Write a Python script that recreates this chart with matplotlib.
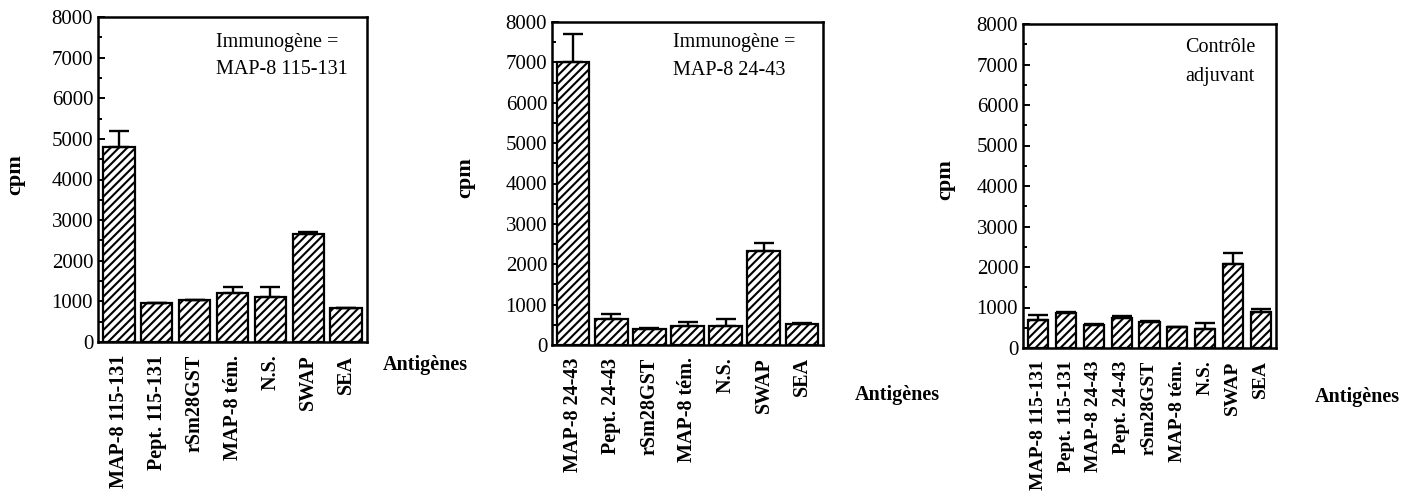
import numpy as np
import matplotlib
matplotlib.use("Agg")
import matplotlib.pyplot as plt
from matplotlib.ticker import MultipleLocator

# panel 1: immunogen MAP-8 115-131
labels_a = ["MAP-8 115-131", "Pept. 115-131", "rSm28GST", "MAP-8 tém.", "N.S.", "SWAP", "SEA"]
cpm_a = [4800, 950, 1030, 1200, 1100, 2650, 830]
err_a = [400, 0, 0, 150, 250, 50, 0]

# panel 2: immunogen MAP-8 24-43
labels_b = ["MAP-8 24-43", "Pept. 24-43", "rSm28GST", "MAP-8 tém.", "N.S.", "SWAP", "SEA"]
cpm_b = [7000, 650, 400, 480, 480, 2330, 520]
err_b = [700, 110, 30, 90, 160, 190, 30]

# panel 3: adjuvant control
labels_c = ["MAP-8 115-131", "Pept. 115-131", "MAP-8 24-43", "Pept. 24-43", "rSm28GST",
            "MAP-8 tém.", "N.S.", "SWAP", "SEA"]
cpm_c = [700, 860, 560, 740, 640, 510, 470, 2080, 880]
err_c = [110, 40, 30, 40, 30, 0, 150, 270, 80]

SERIF = "Liberation Serif"
plt.rcParams["hatch.linewidth"] = 1.5
plt.rcParams["font.family"] = SERIF


def panel(fig, rect, labels, vals, errs, width, note, note_xy, cpm_xy, ant_xy, xsize=14.5):
    ax = fig.add_axes(rect)
    x = np.arange(len(labels))
    vals = np.array(vals, dtype=float)
    errs = np.array(errs, dtype=float)
    ax.bar(x, vals, width=width, color="white", edgecolor="black",
           linewidth=1.6, hatch="////", zorder=2)
    ax.errorbar(x, vals, yerr=[np.zeros_like(errs), errs], fmt="none",
                ecolor="black", elinewidth=1.7, capsize=7, capthick=1.7, zorder=3)
    ax.set_xlim(-0.55, len(labels) - 0.45)
    ax.set_ylim(0, 8000)
    ax.yaxis.set_major_locator(MultipleLocator(1000))
    ax.yaxis.set_minor_locator(MultipleLocator(500))
    ax.tick_params(axis="y", which="both", direction="in", labelsize=15, width=1.4)
    ax.tick_params(axis="y", which="major", length=5)
    ax.tick_params(axis="y", which="minor", length=3)
    ax.set_xticks(x)
    ax.set_xticklabels(labels, rotation=90, fontsize=xsize, fontweight="bold")
    ax.tick_params(axis="x", length=0, pad=9)
    for s in ax.spines.values():
        s.set_linewidth(1.8)

    for i, line in enumerate(note):
        fig.text(note_xy[0] / 1416, 1 - (note_xy[1] + 28 * i) / 497, line,
                 fontsize=14.5, ha="left", va="center")
    fig.text(cpm_xy[0] / 1416, 1 - cpm_xy[1] / 497, "cpm", rotation=90,
             fontsize=16, fontweight="bold", ha="center", va="center")
    fig.text(ant_xy[0] / 1416, 1 - ant_xy[1] / 497, "Antigènes",
             fontsize=14.5, fontweight="bold", ha="left", va="center")
    return ax


fig = plt.figure(figsize=(14.16, 4.97), dpi=100)

panel(fig, [98 / 1416, 1 - 342 / 497, 269 / 1416, 325 / 497],
      labels_a, cpm_a, err_a, 0.83,
      ["Immunogène =", "MAP-8 115-131"], (216, 42), (15, 175), (383, 365))
panel(fig, [552 / 1416, 1 - 345 / 497, 271 / 1416, 323 / 497],
      labels_b, cpm_b, err_b, 0.86,
      ["Immunogène =", "MAP-8 24-43"], (673, 43), (465, 178), (855, 395))
panel(fig, [1023 / 1416, 1 - 348 / 497, 253 / 1416, 324 / 497],
      labels_c, cpm_c, err_c, 0.72,
      ["Contrôle", "adjuvant"], (1185, 48), (945, 180), (1315, 397), xsize=14)

fig.savefig("out.png", dpi=100)
